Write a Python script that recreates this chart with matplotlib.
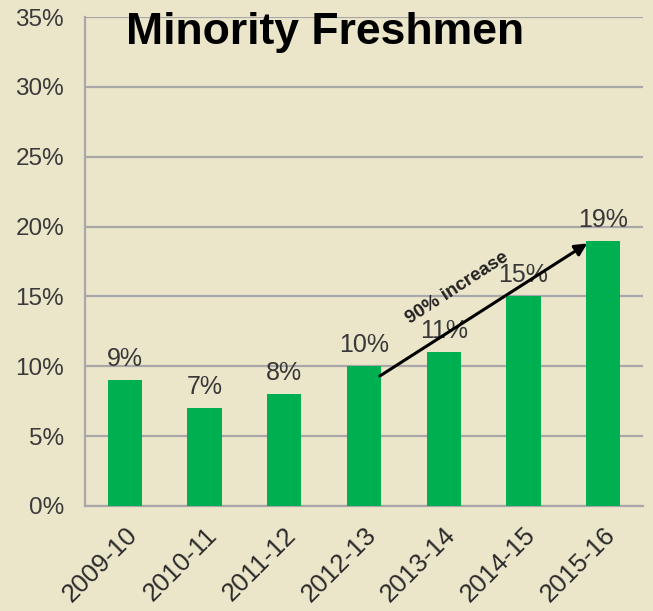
import matplotlib.pyplot as plt
import matplotlib.transforms as mtransforms
import numpy as np

categories = ["2009-10", "2010-11", "2011-12", "2012-13", "2013-14", "2014-15", "2015-16"]
values = [9, 7, 8, 10, 11, 15, 19]
value_labels = ["9%", "7%", "8%", "10%", "11%", "15%", "19%"]
yticks = [0, 5, 10, 15, 20, 25, 30, 35]
ytick_labels = ["0%", "5%", "10%", "15%", "20%", "25%", "30%", "35%"]
title = "Minority Freshmen"
annotation = "90% increase"

bg = "#EBE5C9"
green = "#00B050"

plt.rcParams['font.family'] = ['Liberation Sans', 'DejaVu Sans']
fig = plt.figure(figsize=(6.53, 6.11), dpi=100, facecolor=bg)
ax = fig.add_axes([85/653, 1 - 506/611, (643 - 85)/653, (506 - 17)/611])
ax.set_facecolor(bg)

x = np.arange(len(categories))
ax.bar(x, values, width=0.43, color=green, zorder=3)
for xi, v, lab in zip(x, values, value_labels):
    ax.text(xi, v + 1.0, lab, ha='center', va='baseline', fontsize=18, color='#383838', zorder=4)

ax.set_xlim(-0.5, len(categories) - 0.5)
ax.set_ylim(0, 35)
ax.set_yticks(yticks)
ax.set_yticklabels(ytick_labels, fontsize=17.5, color='#3A3A3A')
ax.set_xticks(x)
ax.set_xticklabels(categories, rotation=45, ha='right', va='top', rotation_mode='anchor',
                   fontsize=18.5, color='#2A2A2A')
offset = mtransforms.ScaledTranslation(-5/100, 0, fig.dpi_scale_trans)
for lbl in ax.get_xticklabels():
    lbl.set_transform(lbl.get_transform() + offset)
ax.tick_params(axis='y', length=0, pad=15)
ax.tick_params(axis='x', length=0, pad=12)
ax.grid(axis='y', color='#A8A8A8', linewidth=1.6, zorder=0)
for s in ['top', 'right']:
    ax.spines[s].set_visible(False)
for s in ['left', 'bottom']:
    ax.spines[s].set_color('#A8A8A8')
    ax.spines[s].set_linewidth(1.6)

ax.annotate('', xy=(5.83, 18.9), xytext=(3.17, 9.2),
            arrowprops=dict(arrowstyle='-|>', color='black', lw=2.2, mutation_scale=18), zorder=5)
ax.text(4.17, 15.6, annotation, rotation=33, ha='center', va='center', fontsize=13.5,
        fontweight='bold', color='#222222', zorder=5, rotation_mode='anchor')

ax.text(2.51, 33.07, title, ha='center', va='baseline', fontsize=32, fontweight='bold',
        color='black', zorder=6)

fig.savefig('out.png', dpi=100, facecolor=bg)
